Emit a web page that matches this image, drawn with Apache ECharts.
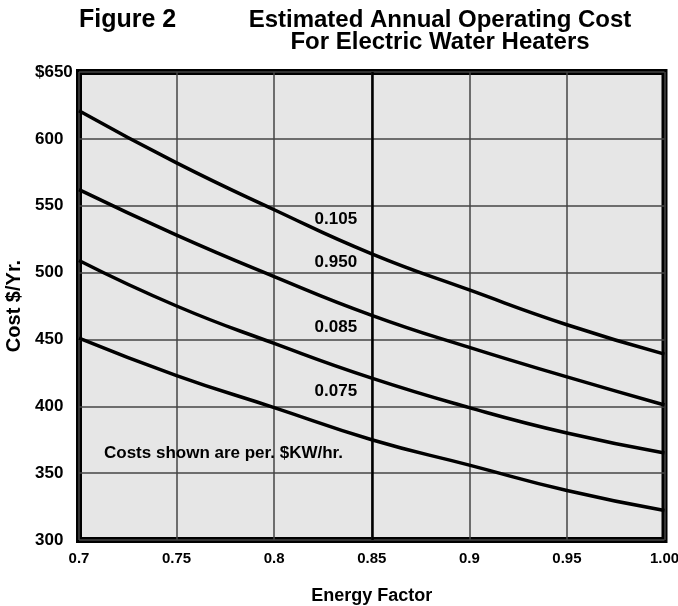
<!DOCTYPE html>
<html>
<head>
<meta charset="utf-8">
<script src="https://cdn.jsdelivr.net/npm/echarts@6/dist/echarts.min.js"></script>
<style>html,body{margin:0;padding:0;background:#fff}#c{width:678px;height:606px}</style>
</head>
<body>
<div id="c"></div>
<script>
// Data
const energyFactor = [0.7, 0.75, 0.8, 0.85, 0.9, 0.95, 1.0];
const rate0105 = [621, 582, 547, 514, 487, 461, 439];
const rate0950 = [562, 528, 497, 468, 444, 422, 401];
const rate0085 = [509, 475, 447, 421, 399, 380, 365];
const rate0075 = [451, 423, 399, 375, 356, 337, 322];
const seriesNames = ['0.105', '0.950', '0.085', '0.075'];
const xTickLabels = ['0.7', '0.75', '0.8', '0.85', '0.9', '0.95', '1.00'];
const yTickLabels = ['300', '350', '400', '450', '500', '550', '600', '$650'];

const font = '"Liberation Sans", Arial, sans-serif';
const chart = echarts.init(document.getElementById('c'), null, {renderer: 'canvas'});

function pairs(vals) { return energyFactor.map((x, i) => [x, vals[i]]); }

const labelPos = [[0.8425, 540], [0.8425, 508], [0.8425, 459], [0.8425, 411]];
const allVals = [rate0105, rate0950, rate0085, rate0075];

const series = allVals.map((vals, i) => ({
  name: seriesNames[i],
  type: 'line',
  smooth: true,
  symbol: 'none',
  data: pairs(vals),
  lineStyle: {color: '#000', width: 3.5},
  z: 5,
  markPoint: {
    symbol: 'circle', symbolSize: 0,
    data: [{coord: labelPos[i]}],
    label: {show: true, formatter: seriesNames[i], position: 'left', distance: 0,
      color: '#000', fontFamily: font, fontWeight: 'bold', fontSize: 17}
  }
}));
series[0].markLine = {
  silent: true, symbol: 'none', label: {show: false},
  lineStyle: {color: '#000', width: 2.5, type: 'solid'},
  data: [{xAxis: 0.85}]
};
series[3].markPoint.data.push({coord: [0.7128, 365], label: {formatter: 'Costs shown are per. $KW/hr.', position: 'right'}});

chart.setOption({
  animation: false,
  backgroundColor: '#fff',
  grid: {left: 79, right: 13.5, top: 72, bottom: 66, show: true, containLabel: false,
    outerBoundsMode: 'none',
    backgroundColor: '#e6e6e6', borderColor: '#000', borderWidth: 6},
  xAxis: {
    type: 'value', min: 0.7, max: 1.0, interval: 0.05,
    name: 'Energy Factor', nameLocation: 'middle', nameGap: 47,
    nameTextStyle: {fontFamily: font, fontWeight: 'bold', fontSize: 18, color: '#000'},
    axisLine: {show: false}, axisTick: {show: false},
    axisLabel: {margin: 11, fontFamily: font, fontWeight: 'bold', fontSize: 15, color: '#000',
      formatter: v => xTickLabels[Math.round((v - 0.7) / 0.05)]},
    splitLine: {show: true, lineStyle: {color: '#444', width: 1.5}}
  },
  yAxis: {
    type: 'value', min: 300, max: 650, interval: 50,
    name: 'Cost $/Yr.', nameLocation: 'middle', nameGap: 48, nameRotate: 90,
    nameTextStyle: {fontFamily: font, fontWeight: 'bold', fontSize: 20, color: '#000'},
    axisLine: {show: false}, axisTick: {show: false},
    axisLabel: {margin: 44, align: 'left', fontFamily: font, fontWeight: 'bold', fontSize: 17, color: '#000',
      formatter: v => yTickLabels[Math.round((v - 300) / 50)]},
    splitLine: {show: true, lineStyle: {color: '#444', width: 1.5}}
  },
  graphic: [
    {type: 'text', x: 79, y: 20, style: {text: 'Figure 2', textVerticalAlign: 'middle', fontFamily: font, fontWeight: 'bold', fontSize: 25, fill: '#000'}},
    {type: 'text', x: 440, y: 20, style: {text: 'Estimated Annual Operating Cost', textAlign: 'center', textVerticalAlign: 'middle', fontFamily: font, fontWeight: 'bold', fontSize: 24, fill: '#000'}},
    {type: 'text', x: 440, y: 42, style: {text: 'For Electric Water Heaters', textAlign: 'center', textVerticalAlign: 'middle', fontFamily: font, fontWeight: 'bold', fontSize: 24, fill: '#000'}}
  ],
  series: series
});
</script>
</body>
</html>
